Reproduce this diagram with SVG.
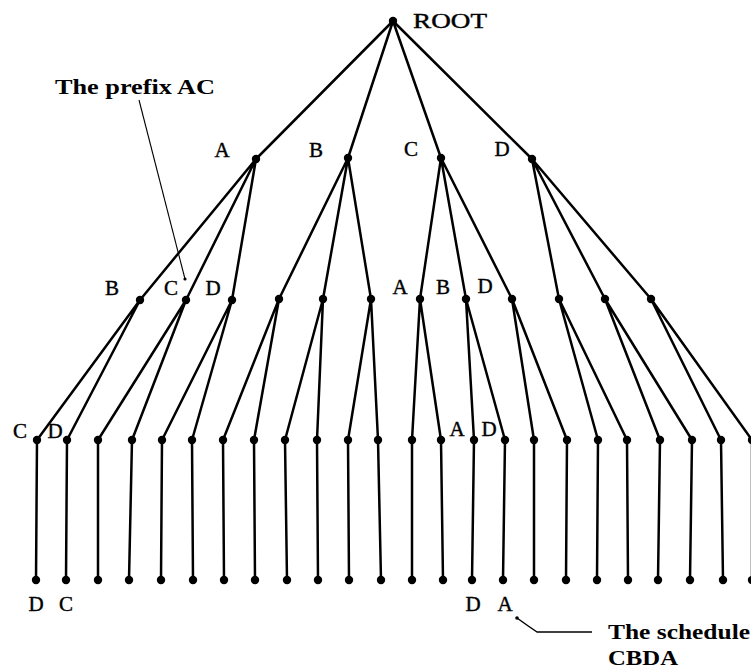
<svg xmlns="http://www.w3.org/2000/svg" width="751" height="672" viewBox="0 0 751 672">
<style>
.e{stroke:#000;stroke-width:2.5;fill:none;stroke-linecap:round}
.t{stroke:#000;stroke-width:1.1;fill:none}
.d{fill:#000}
.l{font-family:"Liberation Serif","Times New Roman",serif;font-size:21px;fill:#000;stroke:#000;stroke-width:0.4;text-anchor:middle}
.a{font-family:"Liberation Serif","Times New Roman",serif;font-size:22px;font-weight:bold;fill:#000}
</style>
<rect width="751" height="672" fill="#fff"/>
<g id="connectors">
<path class="e" d="M393 21L256 159M393 21L348 158M393 21L441 158M393 21L532 159"/>
<path class="e" d="M256 159L140 300M256 159L186 300M256 159L232 300M348 158L279 299M348 158L323 299M348 158L371 299M441 158L420 299M441 158L466 299M441 158L512 299M532 159L559 299M532 159L605 299M532 159L651 299"/>
<path class="e" d="M140 300L37 440M140 300L67 440M186 300L98 440M186 300L132 440M232 300L162 440M232 300L192 440M279 299L223 440M279 299L254 440M323 299L285 440M323 299L317 440M371 299L348 440M371 299L378 440M420 299L412 440M420 299L441 440M466 299L474 440M466 299L505 440M512 299L534 440M512 299L567 440M559 299L598 440M559 299L627 440M605 299L660 440M605 299L692 440M651 299L721 440M651 299L752 440"/>
<path class="e" d="M37 440L36 580M67 440L66 580M98 440L98 580M132 440L129 580M162 440L161 580M192 440L193 580M223 440L224 580M254 440L255 580M285 440L287 580M317 440L318 580M348 440L349 580M378 440L381 580M412 440L412 580M441 440L443 580M474 440L472 580M505 440L503 580M534 440L534 580M567 440L566 580M598 440L597 580M627 440L628 580M660 440L658 580M692 440L690 580M721 440L723 580M752 440L752 580"/>
</g>
<g id="root"><circle class="d" cx="393" cy="21" r="4.2"/><text class="l" x="413" y="28" style="text-anchor:start" textLength="74" lengthAdjust="spacingAndGlyphs">ROOT</text></g>
<g id="n-A"><circle class="d" cx="256" cy="159" r="4.2"/><text class="l" x="222" y="157">A</text></g>
<g id="n-B"><circle class="d" cx="348" cy="158" r="4.2"/><text class="l" x="316" y="157">B</text></g>
<g id="n-C"><circle class="d" cx="441" cy="158" r="4.2"/><text class="l" x="411" y="156">C</text></g>
<g id="n-D"><circle class="d" cx="532" cy="159" r="4.2"/><text class="l" x="502" y="156">D</text></g>
<g id="n-AB"><circle class="d" cx="140" cy="300" r="4.2"/><text class="l" x="112" y="295">B</text></g>
<g id="n-AC"><circle class="d" cx="186" cy="300" r="4.2"/><text class="l" x="171" y="295">C</text></g>
<g id="n-AD"><circle class="d" cx="232" cy="300" r="4.2"/><text class="l" x="213" y="295">D</text></g>
<g id="n-BA"><circle class="d" cx="279" cy="299" r="4.2"/></g>
<g id="n-BC"><circle class="d" cx="323" cy="299" r="4.2"/></g>
<g id="n-BD"><circle class="d" cx="371" cy="299" r="4.2"/></g>
<g id="n-CA"><circle class="d" cx="420" cy="299" r="4.2"/><text class="l" x="400" y="294">A</text></g>
<g id="n-CB"><circle class="d" cx="466" cy="299" r="4.2"/><text class="l" x="443" y="294">B</text></g>
<g id="n-CD"><circle class="d" cx="512" cy="299" r="4.2"/><text class="l" x="485" y="293">D</text></g>
<g id="n-DA"><circle class="d" cx="559" cy="299" r="4.2"/></g>
<g id="n-DB"><circle class="d" cx="605" cy="299" r="4.2"/></g>
<g id="n-DC"><circle class="d" cx="651" cy="299" r="4.2"/></g>
<g id="n-ABC"><circle class="d" cx="37" cy="440" r="4.2"/><text class="l" x="20" y="438">C</text></g>
<g id="n-ABD"><circle class="d" cx="67" cy="440" r="4.2"/><text class="l" x="55" y="438">D</text></g>
<g id="n-ACB"><circle class="d" cx="98" cy="440" r="4.2"/></g>
<g id="n-ACD"><circle class="d" cx="132" cy="440" r="4.2"/></g>
<g id="n-ADB"><circle class="d" cx="162" cy="440" r="4.2"/></g>
<g id="n-ADC"><circle class="d" cx="192" cy="440" r="4.2"/></g>
<g id="n-BAC"><circle class="d" cx="223" cy="440" r="4.2"/></g>
<g id="n-BAD"><circle class="d" cx="254" cy="440" r="4.2"/></g>
<g id="n-BCA"><circle class="d" cx="285" cy="440" r="4.2"/></g>
<g id="n-BCD"><circle class="d" cx="317" cy="440" r="4.2"/></g>
<g id="n-BDA"><circle class="d" cx="348" cy="440" r="4.2"/></g>
<g id="n-BDC"><circle class="d" cx="378" cy="440" r="4.2"/></g>
<g id="n-CAB"><circle class="d" cx="412" cy="440" r="4.2"/></g>
<g id="n-CAD"><circle class="d" cx="441" cy="440" r="4.2"/></g>
<g id="n-CBA"><circle class="d" cx="474" cy="440" r="4.2"/><text class="l" x="457" y="436">A</text></g>
<g id="n-CBD"><circle class="d" cx="505" cy="440" r="4.2"/><text class="l" x="489" y="436">D</text></g>
<g id="n-CDA"><circle class="d" cx="534" cy="440" r="4.2"/></g>
<g id="n-CDB"><circle class="d" cx="567" cy="440" r="4.2"/></g>
<g id="n-DAB"><circle class="d" cx="598" cy="440" r="4.2"/></g>
<g id="n-DAC"><circle class="d" cx="627" cy="440" r="4.2"/></g>
<g id="n-DBA"><circle class="d" cx="660" cy="440" r="4.2"/></g>
<g id="n-DBC"><circle class="d" cx="692" cy="440" r="4.2"/></g>
<g id="n-DCA"><circle class="d" cx="721" cy="440" r="4.2"/></g>
<g id="n-DCB"><circle class="d" cx="752" cy="440" r="4.2"/></g>
<g id="leaves">
<g id="n-ABCD"><circle class="d" cx="36" cy="580" r="4.2"/><text class="l" x="36" y="611">D</text></g>
<g id="n-ABDC"><circle class="d" cx="66" cy="580" r="4.2"/><text class="l" x="66" y="611">C</text></g>
<g id="n-ACBD"><circle class="d" cx="98" cy="580" r="4.2"/></g>
<g id="n-ACDB"><circle class="d" cx="129" cy="580" r="4.2"/></g>
<g id="n-ADBC"><circle class="d" cx="161" cy="580" r="4.2"/></g>
<g id="n-ADCB"><circle class="d" cx="193" cy="580" r="4.2"/></g>
<g id="n-BACD"><circle class="d" cx="224" cy="580" r="4.2"/></g>
<g id="n-BADC"><circle class="d" cx="255" cy="580" r="4.2"/></g>
<g id="n-BCAD"><circle class="d" cx="287" cy="580" r="4.2"/></g>
<g id="n-BCDA"><circle class="d" cx="318" cy="580" r="4.2"/></g>
<g id="n-BDAC"><circle class="d" cx="349" cy="580" r="4.2"/></g>
<g id="n-BDCA"><circle class="d" cx="381" cy="580" r="4.2"/></g>
<g id="n-CABD"><circle class="d" cx="412" cy="580" r="4.2"/></g>
<g id="n-CADB"><circle class="d" cx="443" cy="580" r="4.2"/></g>
<g id="n-CBAD"><circle class="d" cx="472" cy="580" r="4.2"/><text class="l" x="473" y="611">D</text></g>
<g id="n-CBDA"><circle class="d" cx="503" cy="580" r="4.2"/><text class="l" x="505" y="611">A</text></g>
<g id="n-CDAB"><circle class="d" cx="534" cy="580" r="4.2"/></g>
<g id="n-CDBA"><circle class="d" cx="566" cy="580" r="4.2"/></g>
<g id="n-DABC"><circle class="d" cx="597" cy="580" r="4.2"/></g>
<g id="n-DACB"><circle class="d" cx="628" cy="580" r="4.2"/></g>
<g id="n-DBAC"><circle class="d" cx="658" cy="580" r="4.2"/></g>
<g id="n-DBCA"><circle class="d" cx="690" cy="580" r="4.2"/></g>
<g id="n-DCAB"><circle class="d" cx="723" cy="580" r="4.2"/></g>
<g id="n-DCBA"><circle class="d" cx="752" cy="580" r="4.2"/></g>
</g>
<g id="note-prefix">
<text class="a" x="55" y="94" textLength="160" lengthAdjust="spacingAndGlyphs">The prefix AC</text>
<path class="t" d="M139 100L185 279"/>
<circle class="d" cx="185" cy="279" r="1.6"/>
</g>
<g id="note-schedule">
<path class="t" d="M517 618Q528 626 537 632L592 632" style="stroke-width:1.5"/>
<circle class="d" cx="517" cy="618" r="1.8"/>
<text class="a" x="608" y="639" textLength="142" lengthAdjust="spacingAndGlyphs">The schedule</text>
<text class="a" x="608" y="665" textLength="70" lengthAdjust="spacingAndGlyphs">CBDA</text>
</g>
</svg>
